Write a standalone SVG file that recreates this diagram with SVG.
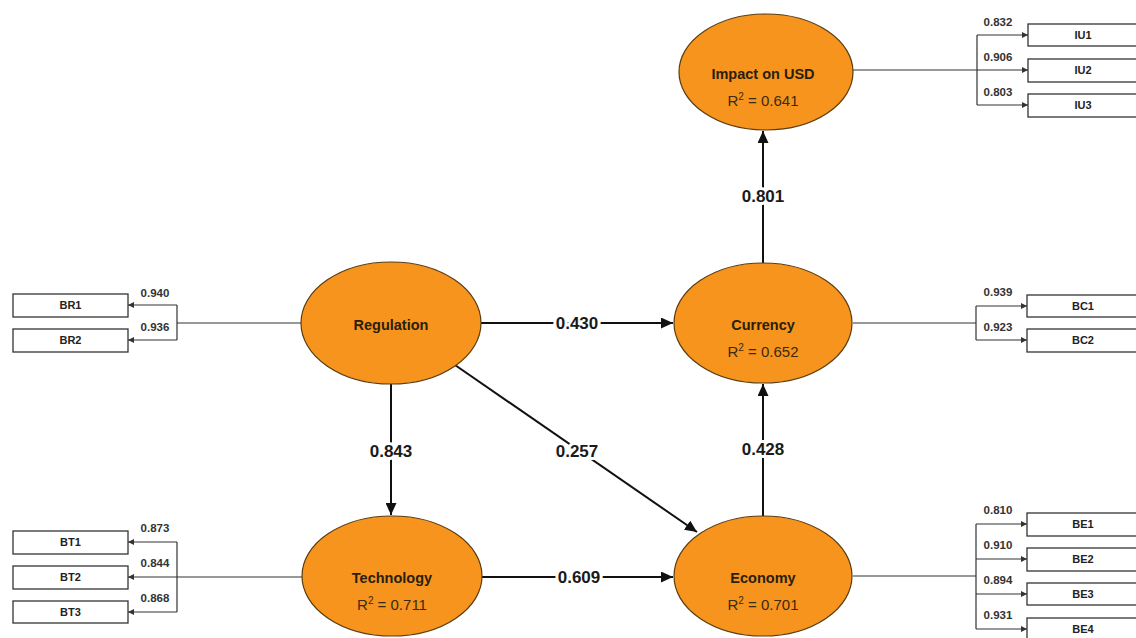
<svg xmlns="http://www.w3.org/2000/svg" width="1136" height="638" viewBox="0 0 1136 638">
<defs>
<style>
.lv{fill:#F7941E;stroke:#5a3c10;stroke-width:1.2}
.nm{font-family:"Liberation Sans",Arial,sans-serif;font-weight:bold;font-size:14.5px;fill:#2a1e0c;text-anchor:middle}
.r2{font-family:"Liberation Sans",Arial,sans-serif;font-size:15px;fill:#3a2a10;text-anchor:middle}
.pl{font-family:"Liberation Sans",Arial,sans-serif;font-weight:bold;font-size:17px;fill:#1a1a1a;text-anchor:middle;stroke:#fff;stroke-width:6;paint-order:stroke;stroke-linejoin:round}
.ld{font-family:"Liberation Sans",Arial,sans-serif;font-weight:bold;font-size:11.5px;fill:#333;text-anchor:middle}
.bx{fill:#fff;stroke:#333;stroke-width:1.3}
.bt{font-family:"Liberation Sans",Arial,sans-serif;font-weight:bold;font-size:11px;fill:#222;text-anchor:middle}
.sp{fill:none;stroke:#111;stroke-width:2}
.il{fill:none;stroke:#333;stroke-width:1.2}
</style>
<marker id="ah" markerUnits="userSpaceOnUse" markerWidth="13" markerHeight="11" refX="12" refY="5.5" orient="auto">
<path d="M0,0 L12,5.5 L0,11 z" fill="#111"/>
</marker>
<marker id="sa" markerUnits="userSpaceOnUse" markerWidth="7" markerHeight="6" refX="6" refY="3" orient="auto">
<path d="M0,0 L6,3 L0,6 z" fill="#333"/>
</marker>
</defs>
<rect width="1136" height="638" fill="#fff"/>

<g id="connectors">
<!-- structural paths -->
<line class="sp" x1="481" y1="323" x2="673" y2="323" marker-end="url(#ah)"/>
<line class="sp" x1="391" y1="383" x2="391" y2="515" marker-end="url(#ah)"/>
<line class="sp" x1="455" y1="365" x2="697" y2="532" marker-end="url(#ah)"/>
<line class="sp" x1="763" y1="516" x2="763" y2="384" marker-end="url(#ah)"/>
<line class="sp" x1="763" y1="263" x2="763" y2="131" marker-end="url(#ah)"/>
<line class="sp" x1="482" y1="577" x2="673" y2="577" marker-end="url(#ah)"/>
<!-- Impact indicators -->
<path class="il" d="M853,70 H977 M977,35 V105"/>
<line class="il" x1="977" y1="35" x2="1028" y2="35" marker-end="url(#sa)"/>
<line class="il" x1="977" y1="70" x2="1028" y2="70" marker-end="url(#sa)"/>
<line class="il" x1="977" y1="105" x2="1028" y2="105" marker-end="url(#sa)"/>
<!-- Currency indicators -->
<path class="il" d="M853,323 H976 M976,306 V340"/>
<line class="il" x1="976" y1="306" x2="1027" y2="306" marker-end="url(#sa)"/>
<line class="il" x1="976" y1="340" x2="1027" y2="340" marker-end="url(#sa)"/>
<!-- Economy indicators -->
<path class="il" d="M853,576 H976 M976,524 V629"/>
<line class="il" x1="976" y1="524" x2="1027" y2="524" marker-end="url(#sa)"/>
<line class="il" x1="976" y1="559" x2="1027" y2="559" marker-end="url(#sa)"/>
<line class="il" x1="976" y1="594" x2="1027" y2="594" marker-end="url(#sa)"/>
<line class="il" x1="976" y1="629" x2="1027" y2="629" marker-end="url(#sa)"/>
<!-- Regulation indicators -->
<path class="il" d="M302,323 H177 M177,305 V340"/>
<line class="il" x1="177" y1="305" x2="128" y2="305" marker-end="url(#sa)"/>
<line class="il" x1="177" y1="340" x2="128" y2="340" marker-end="url(#sa)"/>
<!-- Technology indicators -->
<path class="il" d="M177,542 V612"/>
<line class="il" x1="177" y1="542" x2="128" y2="542" marker-end="url(#sa)"/>
<line class="il" x1="303" y1="577" x2="128" y2="577" marker-end="url(#sa)"/>
<line class="il" x1="177" y1="612" x2="128" y2="612" marker-end="url(#sa)"/>
<!-- path coefficients -->
<text class="pl" x="577" y="329">0.430</text>
<text class="pl" x="391" y="457">0.843</text>
<text class="pl" x="577" y="457">0.257</text>
<text class="pl" x="763" y="455">0.428</text>
<text class="pl" x="763" y="202">0.801</text>
<text class="pl" x="579" y="583">0.609</text>
<!-- loadings -->
<text class="ld" x="998" y="26">0.832</text>
<text class="ld" x="998" y="61">0.906</text>
<text class="ld" x="998" y="96">0.803</text>
<text class="ld" x="998" y="296">0.939</text>
<text class="ld" x="998" y="331">0.923</text>
<text class="ld" x="998" y="514">0.810</text>
<text class="ld" x="998" y="549">0.910</text>
<text class="ld" x="998" y="584">0.894</text>
<text class="ld" x="998" y="619">0.931</text>
<text class="ld" x="155" y="297">0.940</text>
<text class="ld" x="155" y="331">0.936</text>
<text class="ld" x="155" y="532">0.873</text>
<text class="ld" x="155" y="567">0.844</text>
<text class="ld" x="155" y="602">0.868</text>
</g>

<g id="impact">
<ellipse class="lv" cx="766" cy="72" rx="87" ry="58"/>
<text class="nm" x="763" y="79">Impact on USD</text>
<text class="r2" x="763" y="106">R<tspan font-size="10" dy="-6">2</tspan><tspan dy="6"> = 0.641</tspan></text>
</g>
<g id="regulation">
<ellipse class="lv" cx="391" cy="323" rx="90" ry="61"/>
<text class="nm" x="391" y="330">Regulation</text>
</g>
<g id="currency">
<ellipse class="lv" cx="763" cy="323" rx="89" ry="60"/>
<text class="nm" x="763" y="330">Currency</text>
<text class="r2" x="763" y="357">R<tspan font-size="10" dy="-6">2</tspan><tspan dy="6"> = 0.652</tspan></text>
</g>
<g id="technology">
<ellipse class="lv" cx="392" cy="576" rx="90" ry="60"/>
<text class="nm" x="392" y="583">Technology</text>
<text class="r2" x="392" y="610">R<tspan font-size="10" dy="-6">2</tspan><tspan dy="6"> = 0.711</tspan></text>
</g>
<g id="economy">
<ellipse class="lv" cx="763" cy="576" rx="89" ry="60"/>
<text class="nm" x="763" y="583">Economy</text>
<text class="r2" x="763" y="610">R<tspan font-size="10" dy="-6">2</tspan><tspan dy="6"> = 0.701</tspan></text>
</g>

<g id="IU1"><rect class="bx" x="1028" y="24" width="110" height="22"/><text class="bt" x="1083" y="39">IU1</text></g>
<g id="IU2"><rect class="bx" x="1028" y="59" width="110" height="23"/><text class="bt" x="1083" y="74">IU2</text></g>
<g id="IU3"><rect class="bx" x="1028" y="94" width="110" height="23"/><text class="bt" x="1083" y="109">IU3</text></g>
<g id="BC1"><rect class="bx" x="1027" y="295" width="112" height="22"/><text class="bt" x="1083" y="310">BC1</text></g>
<g id="BC2"><rect class="bx" x="1027" y="329" width="112" height="23"/><text class="bt" x="1083" y="344">BC2</text></g>
<g id="BE1"><rect class="bx" x="1027" y="513" width="112" height="23"/><text class="bt" x="1083" y="528">BE1</text></g>
<g id="BE2"><rect class="bx" x="1027" y="548" width="112" height="23"/><text class="bt" x="1083" y="563">BE2</text></g>
<g id="BE3"><rect class="bx" x="1027" y="583" width="112" height="22"/><text class="bt" x="1083" y="598">BE3</text></g>
<g id="BE4"><rect class="bx" x="1027" y="618" width="112" height="23"/><text class="bt" x="1083" y="633">BE4</text></g>
<g id="BR1"><rect class="bx" x="13" y="294" width="115" height="23"/><text class="bt" x="70.5" y="309">BR1</text></g>
<g id="BR2"><rect class="bx" x="13" y="329" width="115" height="23"/><text class="bt" x="70.5" y="344">BR2</text></g>
<g id="BT1"><rect class="bx" x="13" y="531" width="115" height="23"/><text class="bt" x="70.5" y="546">BT1</text></g>
<g id="BT2"><rect class="bx" x="13" y="566" width="115" height="23"/><text class="bt" x="70.5" y="581">BT2</text></g>
<g id="BT3"><rect class="bx" x="13" y="601" width="115" height="22"/><text class="bt" x="70.5" y="616">BT3</text></g>
</svg>
